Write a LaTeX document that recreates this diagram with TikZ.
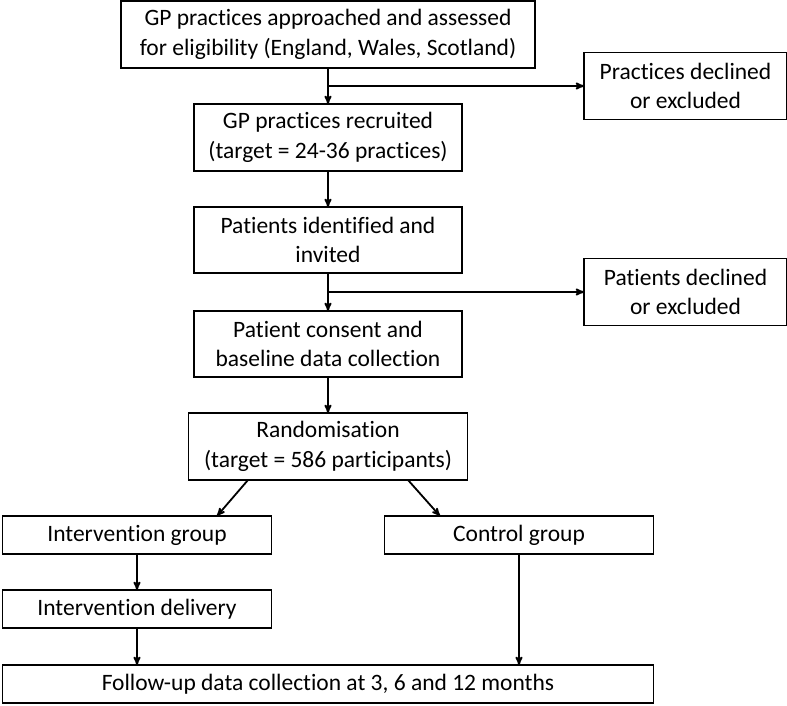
\documentclass[tikz,border=0pt]{standalone}
\usepackage{fontspec}
\setmainfont{Carlito}[Ligatures=NoCommon]
\usetikzlibrary{arrows,calc,positioning}
\tikzset{
    %Define standard arrow tip
    >=stealth',
    %Define style for boxes
    stagebox/.style={
           rectangle,
           draw=black, line width=1.2pt,
           outer sep=0pt,
           minimum width=268pt,
           minimum height=67pt,
           inner sep=2pt,
           align=center,
           font=\fontsize{23.5}{29.5}\selectfont},
    sidebox/.style={
           stagebox,
           minimum width=203pt},
    groupbox/.style={
           stagebox,
           minimum width=269pt,
           minimum height=38pt},
    % Define arrow style
    pil/.style={
           ->,
           line width=1.8pt}
}

\begin{document}
\begin{tikzpicture}[x=1pt,y=-1pt,node distance=36pt]
\useasboundingbox (0,0) rectangle (787,705);
% main column
\node[stagebox, minimum width=414pt] (approach) at (328,34.5)
    {GP practices approached and assessed\\for eligibility (England, Wales, Scotland)};
\node[stagebox, below=of approach] (recruit)
    {GP practices recruited\\(target = 24-36 practices)};
\node[stagebox, minimum height=66pt, below=of recruit] (invite)
    {Patients identified and\\invited};
\node[stagebox, minimum height=66pt, below=38pt of invite] (consent)
    {Patient consent and\\baseline data collection};
\node[stagebox, minimum width=279pt, below=of consent] (random)
    {Randomisation\\(target = 586 participants)};
% exclusions
\coordinate (br1) at ($(approach.south)!0.5!(recruit.north)$);
\coordinate (br2) at ($(invite.south)!0.5!(consent.north)$);
\node[sidebox, right=256pt of br1] (pexcl) {Practices declined\\or excluded};
\node[sidebox, right=256pt of br2] (ptexcl) {Patients declined\\or excluded};
% arms
\node[groupbox, below=of random, xshift=-191pt] (intgrp) {Intervention group};
\node[groupbox, below=of random, xshift=191pt] (ctlgrp) {Control group};
\node[groupbox, below=of intgrp] (intdel) {Intervention delivery};
\node[groupbox, minimum width=651pt, below=37pt of intdel, xshift=191pt] (follow)
    {Follow-up data collection at 3, 6 and 12 months};
\path[pil]
    (approach) edge (recruit)
    (br1) edge (pexcl)
    (recruit) edge (invite)
    (invite) edge (consent)
    (br2) edge (ptexcl)
    (consent) edge (random)
    ([xshift=-80pt]random.south) edge ([xshift=80pt]intgrp.north)
    ([xshift=80pt]random.south) edge ([xshift=-79pt]ctlgrp.north)
    (intgrp) edge (intdel)
    (intdel) edge (intdel |- follow.north)
    (ctlgrp) edge (ctlgrp |- follow.north);
\end{tikzpicture}
\end{document}
